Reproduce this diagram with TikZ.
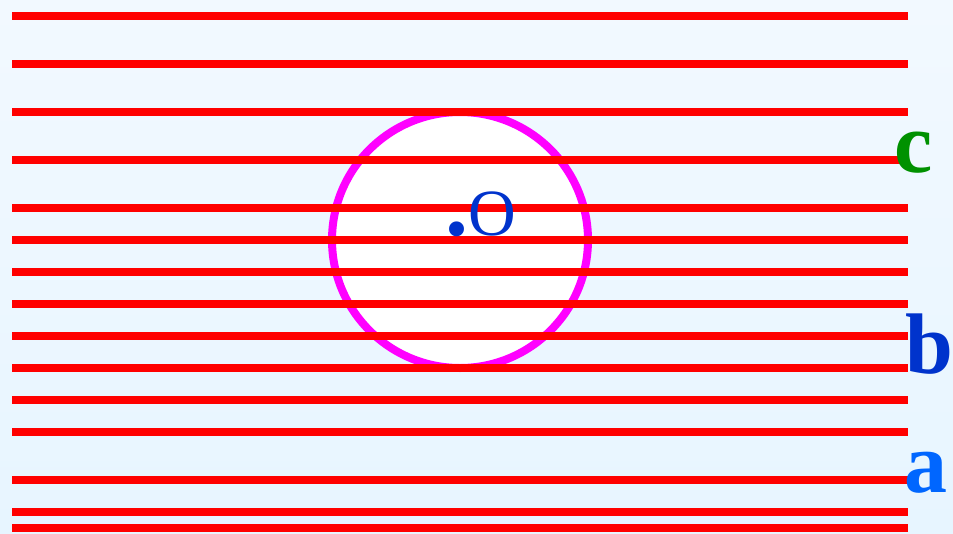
\documentclass[tikz,border=0pt]{standalone}
\usepackage{fontspec}
\setmainfont{Liberation Serif}
\usepackage{xcolor}
\usetikzlibrary{shapes,positioning}
\definecolor{bgtop}{RGB}{242,249,255}
\definecolor{bgbottom}{RGB}{231,245,255}
\definecolor{ringmagenta}{RGB}{255,0,255}
\definecolor{labelgreen}{RGB}{0,145,0}
\definecolor{labelblue}{RGB}{0,51,204}
\definecolor{labellight}{RGB}{0,102,255}

\begin{document}
\begin{tikzpicture}[x=1pt, y=-1pt,
    redline/.style={red, line width=8pt},
    letter/.style={anchor=base, inner sep=0pt, font=\fontsize{86}{86}\selectfont\bfseries}]
    % background
    \shade[top color=bgtop, bottom color=bgbottom] (0,0) rectangle (953,533);
    \useasboundingbox (0,0) rectangle (953,533);
    \node[circle, draw=ringmagenta, fill=white, line width=8pt, minimum size=256pt, inner sep=0pt] (disk) at (460,240) {};
    % the lines
    \foreach \y in {16,64,112,160,208,240,272,304,336,368,400,432,480,512,528}
        \draw[redline] (12,\y) -- (908,\y);
    \node[anchor=base, inner sep=0pt, text=labelblue, font=\fontsize{66}{66}\selectfont] (centre) at (481,235) {{\fontsize{92}{92}\selectfont\bfseries .}O};
    \node[letter, text=labelgreen] (lblc) at (914,172) {c};
    \node[letter, text=labelblue] (lblb) at (929,373) {b};
    \node[letter, text=labellight] (lbla) at (926,492) {a};
\end{tikzpicture}
\end{document}
